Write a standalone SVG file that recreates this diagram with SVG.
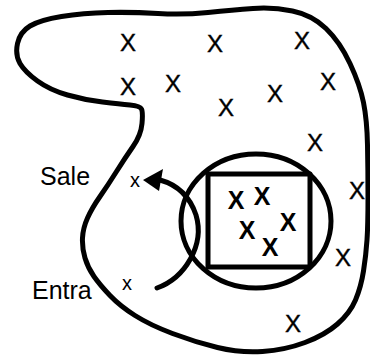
<svg xmlns="http://www.w3.org/2000/svg" width="370" height="355" viewBox="0 0 370 355">
<style>
.ln{fill:none;stroke:#000;stroke-width:5;stroke-linejoin:round;stroke-linecap:round}
.X{font-family:"Liberation Sans",Arial,sans-serif;font-size:24px;text-anchor:middle;fill:#000;stroke:#000;stroke-width:0.4}
.Xb{font-family:"Liberation Sans",Arial,sans-serif;font-size:25px;font-weight:bold;text-anchor:middle;fill:#000}
.sx{font-family:"Liberation Sans",Arial,sans-serif;font-size:20px;text-anchor:middle;fill:#000}
.lbl{font-family:"Liberation Sans",Arial,sans-serif;font-size:25px;fill:#000}
</style>
<rect width="370" height="355" fill="#fff"/>
<g id="region">
<path class="ln" d="M141.5,109 Q143,112 142,123.5 Q141,135 133,146.5 Q125,158 116.5,171.5 Q108,185 100,196.5 Q92,208 87.5,218 Q83,228 82.5,238 Q82,248 85,258 Q88,268 94,276.5 Q100,285 110,295.5 Q120,306 135,315.5 Q150,325 172.5,333.5 Q195,342 217.5,347.5 Q240,353 262.5,351.5 Q285,350 305,342.5 Q325,335 337.5,324 Q350,313 355.5,300 Q361,287 363.5,271 Q366,255 367,240 Q368,225 368,197.5 Q368,170 367.5,145 Q367,120 363.5,102.5 Q360,85 350,63.5 Q340,42 326,28.5 Q312,15 292.5,11 Q273,7 253,8.5 Q233,10 208,12.5 Q183,15 158,13.5 Q133,12 108,12.5 Q83,13 61.5,16.5 Q40,20 30,26 Q20,32 17.5,43.5 Q15,55 20,63.5 Q25,72 37.5,81 Q50,90 67.5,95 Q85,100 102.5,102 Q120,104 130,105 Q140,106 141.5,109 Z"/>
<text class="X" x="128" y="51">X</text>
<text class="X" x="215" y="52">X</text>
<text class="X" x="302" y="49">X</text>
<text class="X" x="128" y="95">X</text>
<text class="X" x="173" y="92">X</text>
<text class="X" x="226" y="116">X</text>
<text class="X" x="275" y="102">X</text>
<text class="X" x="328" y="90">X</text>
<text class="X" x="315" y="151">X</text>
<text class="X" x="357" y="199">X</text>
<text class="X" x="343" y="266">X</text>
<text class="X" x="293" y="332">X</text>
<text class="sx" x="135" y="187">x</text>
<text class="sx" x="127" y="290">x</text>
</g>
<g id="circle">
<ellipse class="ln" cx="256" cy="221" rx="75" ry="67"/>
</g>
<g id="square">
<rect class="ln" x="208" y="174" width="102" height="93"/>
<text class="Xb" x="236" y="209">X</text>
<text class="Xb" x="262" y="205">X</text>
<text class="Xb" x="247" y="239">X</text>
<text class="Xb" x="288" y="231">X</text>
<text class="Xb" x="270" y="256">X</text>
</g>
<g id="connectors">
<path class="ln" d="M157,288 C185,278 205,245 196,215 C190,197 178,185 160,180"/>
<polygon points="143,180 163,169 159,191" fill="#000"/>
</g>
<g id="labels">
<text class="lbl" x="40" y="185">Sale</text>
<text class="lbl" x="32" y="299">Entra</text>
</g>
</svg>
